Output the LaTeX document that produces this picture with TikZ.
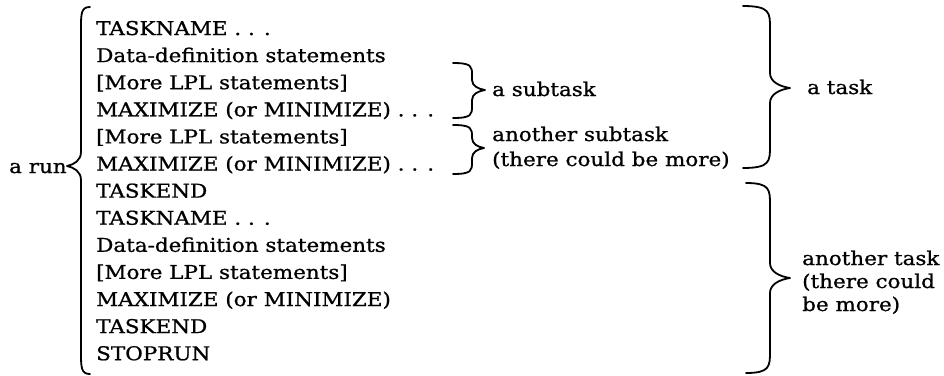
\documentclass[tikz,border=0pt]{standalone}
\usepackage{fontspec}
\setmainfont[FakeStretch=1.13,FakeBold=0.9]{DejaVu Serif}
\newcommand{\BraceShape}[8]{%
  \draw[bracestyle] (#1,#4) .. controls ({#2},{#4}) and ({#2},{#4+0.3*#7}) .. ({#2},{#4+#7})
    -- ({#2},{#5-#8})
    .. controls ({#2},{#5-0.4*#8}) and ({#3-0.5*(#3-#2)},{#5-0.1*#8}) .. ({#3},{#5})
    .. controls ({#3-0.5*(#3-#2)},{#5+0.1*#8}) and ({#2},{#5+0.4*#8}) .. ({#2},{#5+#8})
    -- ({#2},{#6-#7})
    .. controls ({#2},{#6-0.3*#7}) and ({#2},{#6}) .. (#1,#6);}
\begin{document}
\begin{tikzpicture}[x=1pt,y=-1pt,
  txt/.style={anchor=base west,inner sep=0pt,font=\fontsize{19}{22}\selectfont},
  bracestyle/.style={line width=1.8pt,line cap=round,line join=round}]
\path[use as bounding box] (0,0) rectangle (944,375);
% left column
\node[txt] (l0)  at (96,35)    {TASKNAME . . .};
\node[txt] (l1)  at (96,62.1)  {Data-definition statements};
\node[txt] (l2)  at (96,89.2)  {[More LPL statements]};
\node[txt] (l3)  at (96,116.3) {MAXIMIZE (or MINIMIZE) . . .};
\node[txt] (l4)  at (96,143.4) {[More LPL statements]};
\node[txt] (l5)  at (96,170.5) {MAXIMIZE (or MINIMIZE) . . .};
\node[txt] (l6)  at (96,197.6) {TASKEND};
\node[txt] (l7)  at (96,224.7) {TASKNAME . . .};
\node[txt] (l8)  at (96,251.8) {Data-definition statements};
\node[txt] (l9)  at (96,278.9) {[More LPL statements]};
\node[txt] (l10) at (96,306)   {MAXIMIZE (or MINIMIZE)};
\node[txt] (l11) at (96,333.1) {TASKEND};
\node[txt] (l12) at (96,360.2) {STOPRUN};
% labels
\node[txt] (run) at (9,173) {a run};
\node[txt] (sub1) at (492,96) {a subtask};
\node[txt] (sub2a) at (492,141) {another subtask};
\node[txt] (sub2b) at (492,166) {(there could be more)};
\node[txt] (task1) at (807,94) {a task};
\node[txt] (task2a) at (802,265) {another task};
\node[txt] (task2b) at (802,288) {(there could};
\node[txt] (task2c) at (802,311) {be more)};
% braces
\BraceShape{90}{81}{67}{7}{166}{374}{22}{14}
\BraceShape{453}{472}{485}{63}{90}{118}{12}{10}
\BraceShape{453}{472}{484}{125}{148}{174}{12}{10}
\BraceShape{743}{770}{790}{6}{88}{168}{22}{15}
\BraceShape{746}{770}{790}{183}{278}{373}{22}{15}
\end{tikzpicture}
\end{document}
